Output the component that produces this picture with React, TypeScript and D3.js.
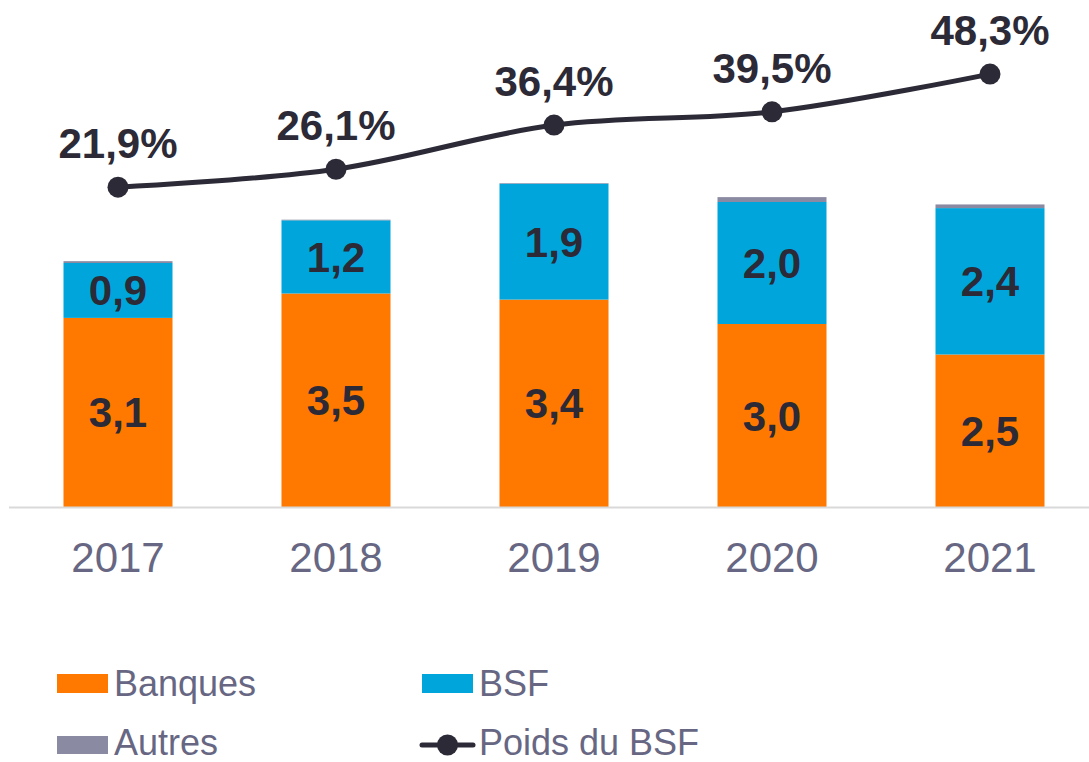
import React from 'react';
import * as d3 from 'd3';

const width = 1089;
const height = 762;
const baseline = 507;

const orange = '#ff7900';
const blue = '#00a6db';
const grey = '#8b8aa3';
const dark = '#2b2a36';
const textGrey = '#676783';

const years = ['2017', '2018', '2019', '2020', '2021'];
const banques = [3.1, 3.5, 3.4, 3.0, 2.5];
const bsf = [0.9, 1.2, 1.9, 2.0, 2.4];
const autres = [0.03, 0.01, 0.01, 0.08, 0.06];
const poidsBsf = [21.9, 26.1, 36.4, 39.5, 48.3];

const fmt = (v: number, digits = 1) => v.toFixed(digits).replace('.', ',');

const App: React.FC = () => {
  const xScale = d3.scaleBand<string>()
    .domain(years)
    .range([9, 1099])
    .paddingInner(0.5)
    .paddingOuter(0.25);

  const yScale = d3.scaleLinear()
    .domain([0, 8])
    .range([baseline, baseline - 8 * 61]);

  const pctScale = d3.scaleLinear()
    .domain([0, 60])
    .range([281, 24]);

  const bw = xScale.bandwidth();
  const cx = (y: string) => (xScale(y) as number) + bw / 2;

  const lineGen = d3.line<number>()
    .x((_, i) => cx(years[i]))
    .y(d => pctScale(d))
    .curve(d3.curveCatmullRom.alpha(0.5));

  const labelFont = 'Liberation Sans, Arial, sans-serif';

  return (
    <svg width={width} height={height} style={{position: 'absolute', left: 0, top: 0}}
      fontFamily={labelFont}>
      <rect width={width} height={height} fill='#ffffff' />
      {years.map((y, i) => {
        const x = xScale(y) as number;
        const b0 = yScale(0);
        const b1 = yScale(banques[i]);
        const s1 = yScale(banques[i] + bsf[i]);
        const a1 = yScale(banques[i] + bsf[i] + autres[i]);
        return (
          <g key={y}>
            <rect x={x} y={b1} width={bw} height={b0 - b1} fill={orange} />
            <rect x={x} y={s1} width={bw} height={b1 - s1} fill={blue} />
            <rect x={x} y={a1} width={bw} height={s1 - a1} fill={grey} />
            <text x={cx(y)} y={(b0 + b1) / 2 + 15} textAnchor='middle' fontSize={42}
              fontWeight='bold' fill={dark}>{fmt(banques[i])}</text>
            <text x={cx(y)} y={(b1 + s1) / 2 + 15} textAnchor='middle' fontSize={42}
              fontWeight='bold' fill={dark}>{fmt(bsf[i])}</text>
            <text x={cx(y)} y={572} textAnchor='middle' fontSize={42}
              fill={textGrey}>{y}</text>
          </g>
        );
      })}
      <line x1={9} x2={1089} y1={baseline + 0.5} y2={baseline + 0.5} stroke='#d9d9d9' strokeWidth={2} />

      <path d={lineGen(poidsBsf) || ''} fill='none' stroke={dark} strokeWidth={5} />
      {poidsBsf.map((v, i) => (
        <g key={years[i]}>
          <circle cx={cx(years[i])} cy={pctScale(v)} r={10.5} fill={dark} />
          <text x={cx(years[i])} y={pctScale(v) - 29} textAnchor='middle' fontSize={42}
            fontWeight='bold' fill={dark}>{fmt(v)}%</text>
        </g>
      ))}

      <g fontSize={36} fill={textGrey}>
        <rect x={57} y={674} width={51} height={19} fill={orange} />
        <text x={114} y={696}>Banques</text>
        <rect x={422} y={674} width={51} height={19} fill={blue} />
        <text x={479} y={696}>BSF</text>
        <rect x={57} y={736} width={51} height={18} fill={grey} />
        <text x={114} y={755}>Autres</text>
        <line x1={422} x2={473} y1={745} y2={745} stroke={dark} strokeWidth={5} strokeLinecap='round' />
        <circle cx={447.5} cy={745} r={10.5} fill={dark} />
        <text x={479} y={755}>Poids du BSF</text>
      </g>
    </svg>
  );
};

export default App;
